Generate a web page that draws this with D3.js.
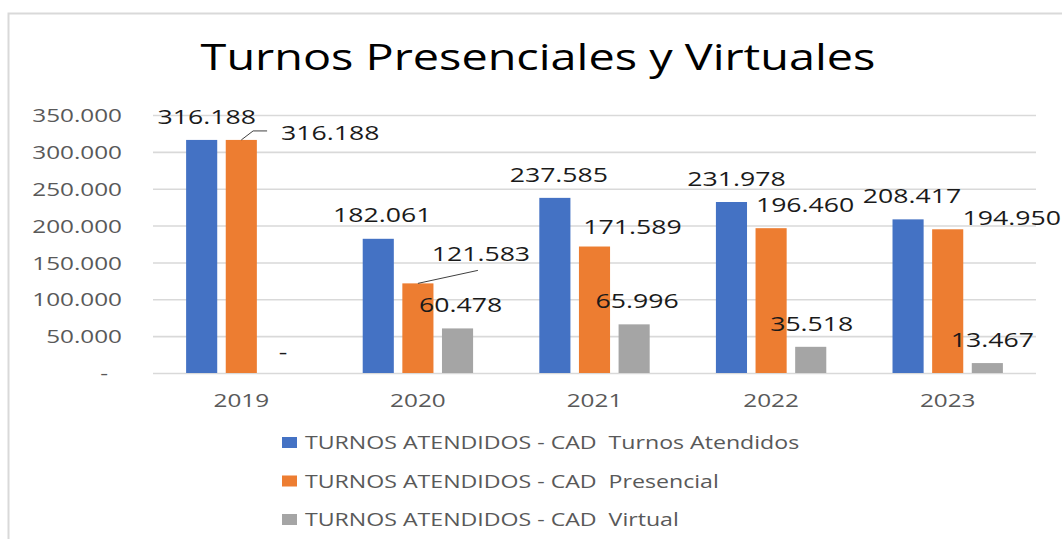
<!DOCTYPE html>
<html>
<head>
<meta charset="utf-8">
<script src="https://cdn.jsdelivr.net/npm/d3@7"></script>
<style>
  html, body { margin: 0; padding: 0; background: #fff; }
  svg { display: block; font-family: "Open Sans", sans-serif; }
</style>
</head>
<body>
<div id="chart"></div>
<script>
const years = ["2019", "2020", "2021", "2022", "2023"];
const seriesNames = [
  "TURNOS ATENDIDOS - CAD  Turnos Atendidos",
  "TURNOS ATENDIDOS - CAD  Presencial",
  "TURNOS ATENDIDOS - CAD  Virtual"
];
const atendidos = [316188, 182061, 237585, 231978, 208417];
const presencial = [316188, 121583, 171589, 196460, 194950];
const virtual = [0, 60478, 65996, 35518, 13467];
const yTicks = [0, 50000, 100000, 150000, 200000, 250000, 300000, 350000];

// label nudges from the bar top (Excel labels were dragged by hand)
const labelShift = [
  [[5, -16], [4, -17], [4, -16], [5, -16], [4, -16]],
  [[89, 0], [63, -22], [38, -13], [34, -16], [64, -4]],
  [[2, -14], [3, -16], [3, -16], [1, -16], [5, -16]]
];
const leaders = [
  {series: 1, year: 0, kind: "elbow"},
  {series: 1, year: 1, kind: "bottom"}
];

const width = 1062;
const height = 539;
const colors = ["#4472C4", "#ED7D31", "#A5A5A5"];
const SX = 1.3; // text in the picture is stretched sideways

const margin = {left: 153, right: 26, top: 115, bottom: 166};
const series = [atendidos, presencial, virtual];

const fmt = v => v === 0 ? "-" : d3.format(",")(v).replace(/,/g, ".");

const svg = d3.select("#chart").append("svg")
  .attr("width", width)
  .attr("height", height)
  .attr("viewBox", [0, 0, width, height]);

// chart area border
svg.append("rect")
  .attr("x", 8.5)
  .attr("y", 13.5)
  .attr("width", 1100)
  .attr("height", 600)
  .attr("fill", "none")
  .attr("stroke", "#d9d9d9")
  .attr("stroke-width", 2);

svg.append("g")
  .attr("transform", `translate(538,70) scale(${SX},1)`)
  .append("text")
  .attr("text-anchor", "middle")
  .attr("font-size", 36)
  .attr("fill", "#000")
  .text("Turnos Presenciales y Virtuales");

const x0 = d3.scaleBand()
  .domain(years)
  .range([margin.left, width - margin.right])
  .padding(0);

const groupW = x0.bandwidth() / 1.6;
const x1 = d3.scaleBand()
  .domain(d3.range(series.length))
  .range([0, groupW])
  .paddingInner(0.215)
  .paddingOuter(0);

const y = d3.scaleLinear()
  .domain([0, 350000])
  .range([height - margin.bottom, margin.top]);

const barX = (s, i) => x0(years[i]) + (x0.bandwidth() - groupW) / 2 + x1(s);
const barCx = (s, i) => barX(s, i) + x1.bandwidth() / 2;

// y axis with gridlines
const yAxis = svg.append("g")
  .attr("transform", `translate(${margin.left},0)`)
  .call(d3.axisLeft(y)
    .tickValues(yTicks)
    .tickSize(-(width - margin.left - margin.right))
    .tickPadding(0)
    .tickFormat(fmt));

yAxis.select(".domain").remove();
yAxis.selectAll(".tick line")
  .attr("stroke", "#d9d9d9")
  .attr("stroke-width", 1.6);
yAxis.selectAll(".tick text")
  .attr("x", 0)
  .attr("dy", null)
  .attr("y", 0)
  .attr("transform", d => `translate(${d === 0 ? -45 : -31},6.7) scale(${SX},1)`)
  .attr("font-size", 18.7)
  .attr("font-family", "Open Sans, sans-serif")
  .attr("fill", "#595959");

// x labels
svg.append("g")
  .selectAll("g")
  .data(years)
  .join("g")
  .attr("transform", d => `translate(${x0(d) + x0.bandwidth() / 2},407) scale(${SX},1)`)
  .append("text")
  .attr("text-anchor", "middle")
  .attr("font-size", 18.7)
  .attr("fill", "#595959")
  .text(d => d);

// bars
series.forEach((vals, s) => {
  svg.append("g")
    .attr("fill", colors[s])
    .selectAll("rect")
    .data(vals)
    .join("rect")
    .attr("x", (d, i) => barX(s, i))
    .attr("y", d => y(d))
    .attr("width", x1.bandwidth())
    .attr("height", d => y(0) - y(d));
});

// data labels
const labelPos = {};
series.forEach((vals, s) => {
  vals.forEach((v, i) => {
    const cx = barCx(s, i) + labelShift[s][i][0];
    const by = y(v) + labelShift[s][i][1];
    const t = svg.append("g")
      .attr("transform", `translate(${cx},${by}) scale(${SX},1)`)
      .append("text")
      .attr("text-anchor", "middle")
      .attr("font-size", 20.5)
      .attr("fill", "#1a1a1a")
      .text(fmt(v));
    labelPos[s + "-" + i] = {cx: cx, by: by, w: t.node().getComputedTextLength() * SX};
  });
});

// leader lines
leaders.forEach(l => {
  const p = labelPos[l.series + "-" + l.year];
  const sx = barCx(l.series, l.year);
  const sy = y(series[l.series][l.year]);
  let pts;
  if (l.kind === "elbow") {
    const ex = p.cx - p.w / 2 - 14;
    const ey = p.by - 9;
    pts = [[sx, sy], [ex - 14, ey], [ex, ey]];
  } else {
    pts = [[sx, sy], [p.cx - 3, p.by + 9]];
  }
  svg.append("path")
    .attr("d", d3.line()(pts))
    .attr("fill", "none")
    .attr("stroke", "#404040")
    .attr("stroke-width", 1);
});

// legend
const legend = svg.append("g")
  .selectAll("g")
  .data(seriesNames)
  .join("g")
  .attr("transform", (d, i) => `translate(282,${437 + i * 38.5})`);

legend.append("rect")
  .attr("width", 15)
  .attr("height", 11)
  .attr("fill", (d, i) => colors[i]);

legend.append("g")
  .attr("transform", `translate(23,12) scale(${SX},1)`)
  .append("text")
  .attr("font-size", 17.8)
  .attr("fill", "#595959")
  .attr("xml:space", "preserve")
  .style("white-space", "pre")
  .text(d => d);
</script>
</body>
</html>
